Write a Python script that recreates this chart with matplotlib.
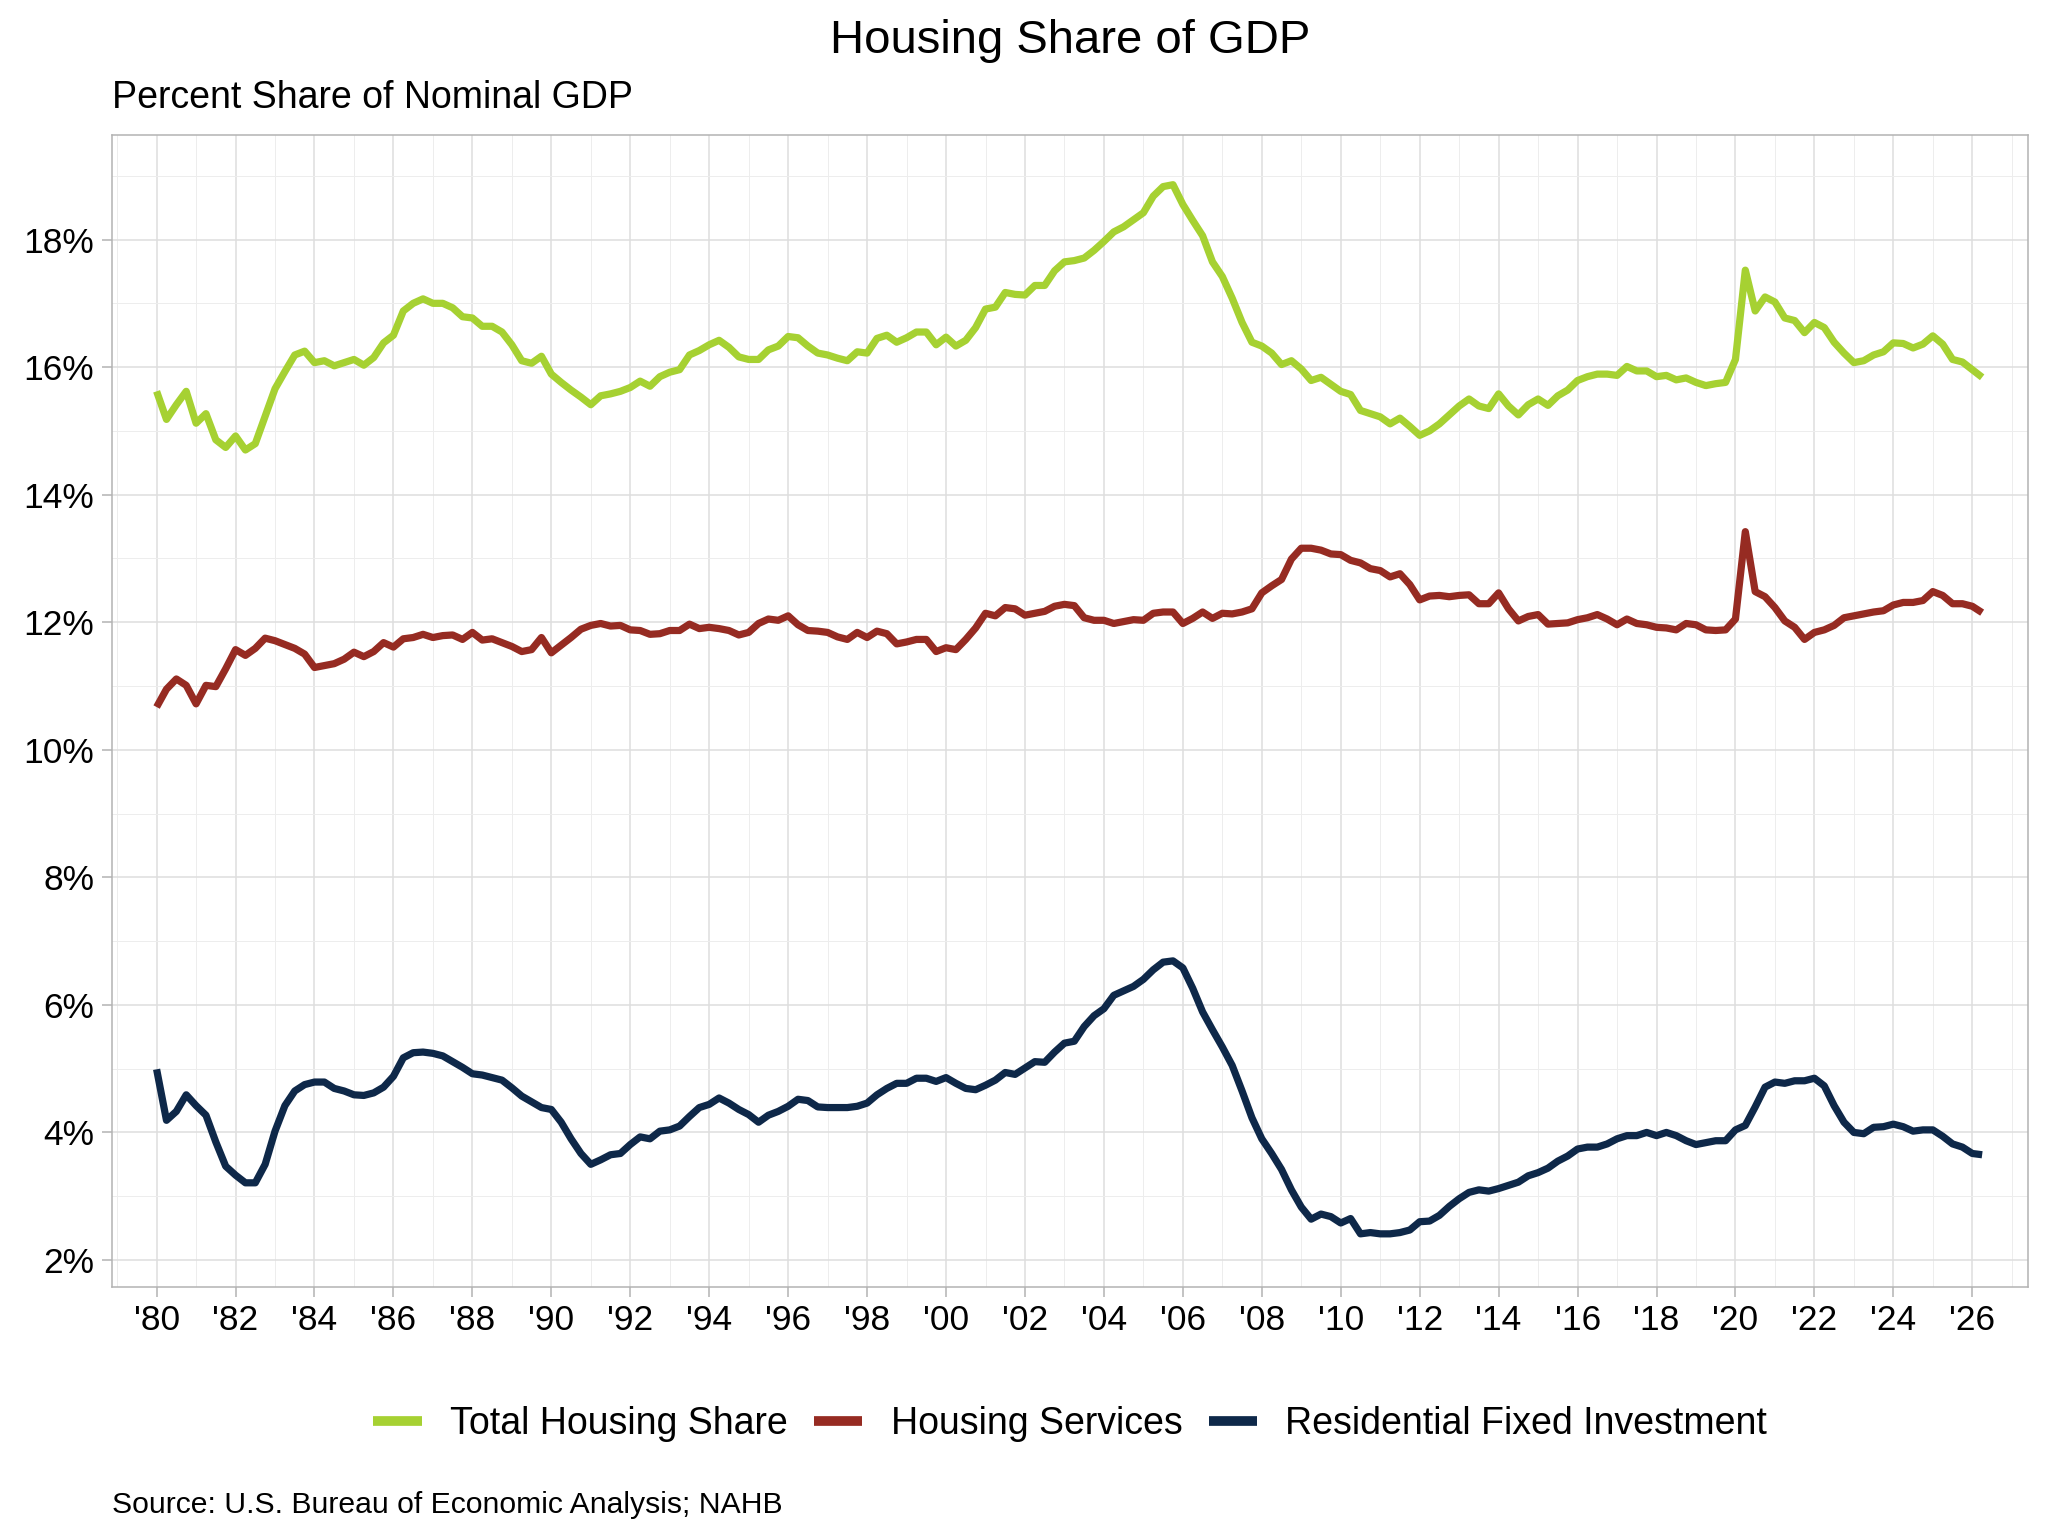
import matplotlib
matplotlib.use("Agg")
import matplotlib.pyplot as plt
from matplotlib.ticker import MultipleLocator, FuncFormatter
import pandas as pd

plt.rcParams['font.family'] = ['Liberation Sans', 'DejaVu Sans']

# quarterly, 1980Q1 .. 2026Q2
quarters = pd.period_range('1980Q1', '2026Q2', freq='Q')

total_share = [
    15.62, 15.18, 15.41, 15.62,  15.12, 15.27, 14.86, 14.74,  14.92, 14.70, 14.80, 15.23,
    15.66, 15.93, 16.19, 16.25,  16.07, 16.10, 16.02, 16.07,  16.12, 16.03, 16.15, 16.38,
    16.50, 16.88, 17.00, 17.07,  17.00, 17.00, 16.93, 16.79,  16.77, 16.64, 16.64, 16.55,
    16.35, 16.10, 16.06, 16.17,  15.89, 15.76, 15.64, 15.53,  15.41, 15.55, 15.58, 15.62,
    15.68, 15.78, 15.70, 15.85,  15.92, 15.96, 16.19, 16.26,  16.35, 16.42, 16.31, 16.16,
    16.12, 16.12, 16.27, 16.33,  16.48, 16.46, 16.33, 16.22,  16.19, 16.14, 16.10, 16.24,
    16.22, 16.45, 16.50, 16.39,  16.46, 16.55, 16.55, 16.35,  16.47, 16.33, 16.42, 16.62,
    16.91, 16.94, 17.17, 17.14,  17.13, 17.28, 17.28, 17.51,  17.65, 17.67, 17.71, 17.83,
    17.97, 18.12, 18.20, 18.31,  18.42, 18.68, 18.83, 18.86,  18.55, 18.30, 18.06, 17.65,
    17.42, 17.08, 16.70, 16.39,  16.33, 16.22, 16.04, 16.10,  15.97, 15.79, 15.84, 15.73,
    15.62, 15.57, 15.32, 15.27,  15.22, 15.11, 15.20, 15.07,  14.93, 15.00, 15.11, 15.25,
    15.39, 15.50, 15.39, 15.35,  15.58, 15.39, 15.25, 15.41,  15.50, 15.40, 15.55, 15.64,
    15.79, 15.85, 15.89, 15.89,  15.87, 16.01, 15.94, 15.94,  15.85, 15.87, 15.80, 15.83,
    15.76, 15.71, 15.74, 15.76,  16.12, 17.52, 16.88, 17.10,  17.02, 16.77, 16.73, 16.54,
    16.70, 16.62, 16.39, 16.22,  16.07, 16.10, 16.19, 16.24,  16.38, 16.37, 16.30, 16.36,
    16.49, 16.36, 16.12, 16.08,  15.96, 15.84,
]

housing_services = [
    10.67, 10.95, 11.11, 11.01,  10.72, 11.01, 10.99, 11.27,  11.57, 11.48, 11.59, 11.75,
    11.71, 11.65, 11.59, 11.50,  11.29, 11.32, 11.35, 11.42,  11.53, 11.46, 11.54, 11.68,
    11.61, 11.74, 11.76, 11.81,  11.76, 11.79, 11.80, 11.73,  11.84, 11.72, 11.74, 11.68,
    11.62, 11.54, 11.57, 11.76,  11.52, 11.64, 11.76, 11.89,  11.95, 11.98, 11.94, 11.95,
    11.88, 11.87, 11.81, 11.82,  11.87, 11.87, 11.97, 11.90,  11.92, 11.90, 11.87, 11.80,
    11.84, 11.98, 12.05, 12.03,  12.10, 11.96, 11.87, 11.86,  11.84, 11.77, 11.73, 11.84,
    11.76, 11.86, 11.82, 11.66,  11.69, 11.73, 11.73, 11.54,  11.60, 11.57, 11.73, 11.91,
    12.14, 12.10, 12.23, 12.21,  12.11, 12.14, 12.17, 12.25,  12.28, 12.26, 12.07, 12.03,
    12.03, 11.98, 12.01, 12.04,  12.03, 12.14, 12.16, 12.16,  11.98, 12.06, 12.16, 12.06,
    12.14, 12.13, 12.16, 12.21,  12.46, 12.57, 12.67, 12.99,  13.16, 13.16, 13.13, 13.07,
    13.06, 12.97, 12.93, 12.84,  12.81, 12.71, 12.76, 12.59,  12.35, 12.41, 12.42, 12.40,
    12.42, 12.43, 12.29, 12.29,  12.46, 12.21, 12.02, 12.09,  12.12, 11.97, 11.98, 11.99,
    12.04, 12.07, 12.12, 12.05,  11.96, 12.05, 11.98, 11.96,  11.92, 11.91, 11.88, 11.98,
    11.96, 11.88, 11.87, 11.88,  12.05, 13.42, 12.48, 12.40,  12.23, 12.02, 11.92, 11.73,
    11.84, 11.88, 11.95, 12.07,  12.10, 12.13, 12.16, 12.18,  12.27, 12.31, 12.31, 12.34,
    12.48, 12.42, 12.29, 12.29,  12.25, 12.15,
]

residential_investment = [
    4.99, 4.19, 4.33, 4.59,  4.42, 4.27, 3.85, 3.47,  3.33, 3.21, 3.21, 3.50,
    4.02, 4.42, 4.65, 4.75,  4.79, 4.79, 4.69, 4.65,  4.59, 4.58, 4.62, 4.71,
    4.88, 5.17, 5.25, 5.26,  5.24, 5.20, 5.11, 5.02,  4.92, 4.90, 4.86, 4.82,
    4.70, 4.57, 4.48, 4.39,  4.36, 4.16, 3.90, 3.67,  3.50, 3.57, 3.65, 3.67,
    3.81, 3.93, 3.90, 4.02,  4.04, 4.10, 4.25, 4.39,  4.44, 4.54, 4.46, 4.36,
    4.28, 4.16, 4.27, 4.33,  4.41, 4.52, 4.50, 4.40,  4.39, 4.39, 4.39, 4.41,
    4.46, 4.59, 4.69, 4.77,  4.77, 4.85, 4.85, 4.80,  4.86, 4.77, 4.69, 4.67,
    4.74, 4.82, 4.94, 4.91,  5.01, 5.11, 5.10, 5.26,  5.40, 5.43, 5.66, 5.83,
    5.94, 6.15, 6.22, 6.29,  6.40, 6.55, 6.67, 6.69,  6.58, 6.26, 5.89, 5.61,
    5.34, 5.05, 4.65, 4.23,  3.90, 3.67, 3.42, 3.10,  2.83, 2.64, 2.72, 2.68,
    2.58, 2.65, 2.41, 2.43,  2.41, 2.41, 2.43, 2.47,  2.60, 2.61, 2.70, 2.84,
    2.96, 3.06, 3.10, 3.08,  3.12, 3.17, 3.22, 3.32,  3.37, 3.44, 3.55, 3.63,
    3.74, 3.77, 3.77, 3.82,  3.90, 3.95, 3.95, 4.00,  3.95, 4.00, 3.95, 3.87,
    3.81, 3.84, 3.87, 3.87,  4.04, 4.11, 4.40, 4.71,  4.79, 4.77, 4.81, 4.81,
    4.85, 4.73, 4.42, 4.16,  4.00, 3.98, 4.08, 4.09,  4.13, 4.09, 4.02, 4.04,
    4.04, 3.94, 3.82, 3.77,  3.67, 3.65,
]

series_names = ['Total Housing Share', 'Housing Services', 'Residential Fixed Investment']
series_colors = ['#A6D132', '#962B22', '#0E2849']

x = [q.year + (q.quarter - 1) / 4 for q in quarters]

fig = plt.figure(figsize=(20.48, 15.37), dpi=100)
ax = fig.add_axes([0.0545, 0.1628, 0.9357, 0.7494])

for vals, name, col in zip([total_share, housing_services, residential_investment],
                           series_names, series_colors):
    ax.plot(x, vals, color=col, lw=5.2, label=name, solid_joinstyle='round',
            solid_capstyle='butt', zorder=3)

ax.set_xlim(1978.86, 2027.41)
ax.set_ylim(1.58, 19.64)

ax.xaxis.set_major_locator(MultipleLocator(2))
ax.xaxis.set_minor_locator(MultipleLocator(1))
ax.yaxis.set_major_locator(MultipleLocator(2))
ax.yaxis.set_minor_locator(MultipleLocator(1))
ax.xaxis.set_major_formatter(FuncFormatter(lambda v, p: "'%02d" % (int(round(v)) % 100)))
ax.yaxis.set_major_formatter(FuncFormatter(lambda v, p: '%d%%' % round(v)))

ax.grid(which='major', color='#DEDEDE', lw=1.1, zorder=0)
ax.grid(which='minor', color='#EDEDED', lw=0.7, zorder=0)
ax.set_axisbelow(True)
for s in ax.spines.values():
    s.set_color('#B3B3B3')
    s.set_linewidth(1.1)
ax.tick_params(which='major', length=7.5, width=1.1, color='#B3B3B3', labelsize=25.5,
               labelcolor='black', pad=5)
ax.tick_params(which='minor', length=0)

fig.text(0.5225, 0.9655, 'Housing Share of GDP', ha='center', va='baseline', fontsize=34)
fig.text(0.0545, 0.9297, 'Percent Share of Nominal GDP', ha='left', va='baseline', fontsize=27)
fig.text(0.0545, 0.0156, 'Source: U.S. Bureau of Economic Analysis; NAHB', ha='left',
         va='baseline', fontsize=21.7)

leg = fig.legend(loc='center', bbox_to_anchor=(0.5225, 0.0735), ncol=3, frameon=False,
                 fontsize=27, handlelength=1.3, handletextpad=0.75, columnspacing=0.7)
for h in leg.get_lines():
    h.set_linewidth(7)

fig.savefig('out.png', dpi=100)
